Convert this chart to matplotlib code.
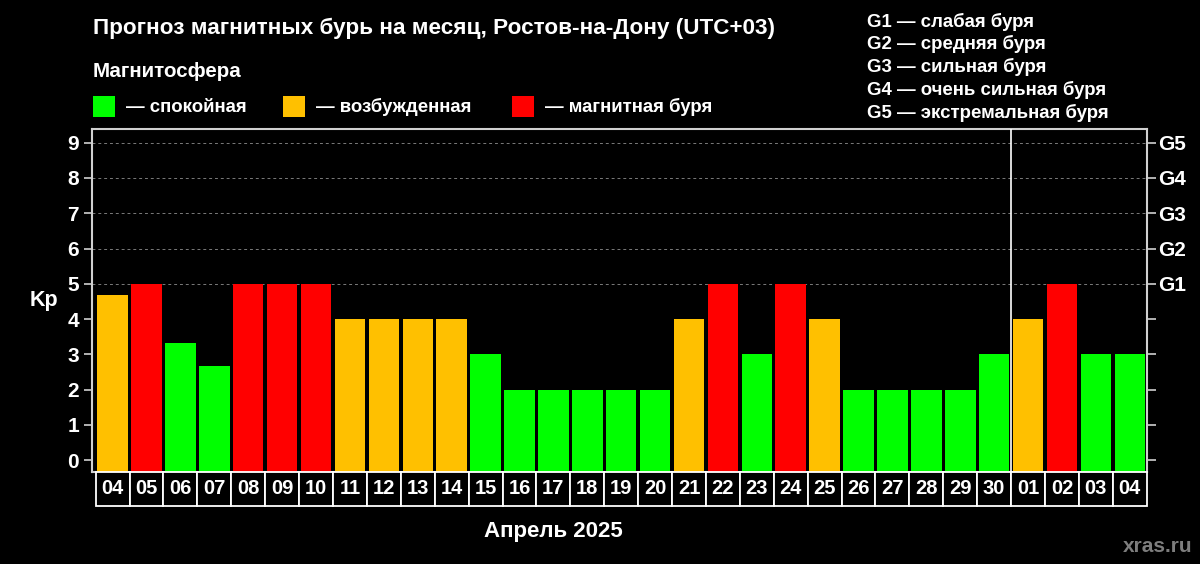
import matplotlib
matplotlib.use("Agg")
import matplotlib.pyplot as plt
import matplotlib.transforms as mtransforms
from matplotlib.patches import Rectangle

plt.rcParams["font.family"] = ["Liberation Sans", "DejaVu Sans"]
plt.rcParams["font.weight"] = "bold"

# data
days = ["04", "05", "06", "07", "08", "09", "10", "11", "12", "13", "14", "15",
        "16", "17", "18", "19", "20", "21", "22", "23", "24", "25", "26", "27",
        "28", "29", "30", "01", "02", "03", "04"]
kp = [4.67, 5, 3.33, 2.67, 5, 5, 5, 4, 4, 4, 4, 3,
      2, 2, 2, 2, 2, 4, 5, 3, 5, 4, 2, 2,
      2, 2, 3, 4, 5, 3, 3]
n_april = 27
month_label = "Апрель 2025"
g_levels = [5, 6, 7, 8, 9]
g_names = ["G1", "G2", "G3", "G4", "G5"]
g_desc = ["слабая буря", "средняя буря", "сильная буря",
          "очень сильная буря", "экстремальная буря"]
state_names = ["спокойная", "возбужденная", "магнитная буря"]

GREEN = "#00ff00"
ORANGE = "#ffc000"
RED = "#ff0000"
state_colors = [GREEN, ORANGE, RED]
SPINE = "#d0d0d0"


def kp_color(v):
    if v >= 5:
        return RED
    if v >= 4:
        return ORANGE
    return GREEN


fig = plt.figure(figsize=(12, 5.64), dpi=100)
fig.patch.set_facecolor("black")
ax = fig.add_axes([0.0769, 0.1637, 0.8787, 0.6076])
ax.set_facecolor("black")

ymin, ymax = -0.33, 9.39
x = list(range(len(days)))
ax.bar(x, [v - ymin for v in kp], bottom=ymin, width=0.9,
       color=[kp_color(v) for v in kp], zorder=3)
ax.set_xlim(-0.6, len(days) - 0.5)
ax.set_ylim(ymin, ymax)

for lvl in g_levels:
    ax.axhline(lvl, color="#7a7a7a", lw=0.7, ls=(0, (3, 3)), zorder=1)
ax.axvline(n_april - 0.5, color="white", lw=1.2, zorder=4)

for s in ax.spines.values():
    s.set_color(SPINE)
    s.set_linewidth(1.5)

ax.set_xticks([])
ax.set_yticks(range(10))
ax.tick_params(axis="y", colors="white", color=SPINE, length=6, width=1.2,
               pad=3.5, labelsize=15)
for t in ax.get_yticklabels():
    t.set_fontweight("bold")

ax.set_ylabel("Kp", rotation=0, color="white", fontsize=15.5,
              fontweight="bold", va="center", ha="center")
ax.yaxis.set_label_coords(-0.0455, 0.5)

ax2 = ax.twinx()
ax2.set_ylim(ymin, ymax)
ax2.set_yticks(range(10))
ax2.set_yticklabels([""] * (10 - len(g_names)) + g_names)
ax2.tick_params(axis="y", colors="white", color=SPINE, length=6.5, width=1.2,
                pad=2, labelsize=15)
for t in ax2.get_yticklabels():
    t.set_fontweight("bold")
for s in ax2.spines.values():
    s.set_visible(False)

# day cells under the axis
trans = mtransforms.blended_transform_factory(ax.transData, ax.transAxes)
cell_h = 0.099
for i, d in enumerate(days):
    ax.add_patch(Rectangle((i - 0.5, -cell_h), 1, cell_h, transform=trans,
                           facecolor="black", edgecolor="white", lw=1.3,
                           clip_on=False, zorder=5))
    ax.text(i, -cell_h / 2, d, transform=trans, ha="center", va="center",
            color="white", fontsize=14.5, fontweight="bold", zorder=6)

ax.text((n_april - 1) / 2, -0.176, month_label, transform=trans,
        ha="center", va="center", color="white", fontsize=16,
        fontweight="bold")

# header texts
H = 564.0
fig.text(0.0775, 1 - 34.3 / H,
         "Прогноз магнитных бурь на месяц, Ростов-на-Дону (UTC+03)",
         color="white", fontsize=16.2, fontweight="bold", va="baseline")
fig.text(0.0775, 1 - 76.7 / H, "Магнитосфера", color="white",
         fontsize=14.8, fontweight="bold", va="baseline")

sq_x = [92.7, 282.7, 511.5]
txt_x = [126.0, 316.0, 545.0]
for sx, tx, c, name in zip(sq_x, txt_x, state_colors, state_names):
    fig.patches.append(Rectangle((sx / 1200, 1 - 117.3 / H), 22.3 / 1200,
                                 21.6 / H, transform=fig.transFigure,
                                 facecolor=c, edgecolor="none"))
    fig.text(tx / 1200, 1 - 111.5 / H, "— " + name, color="white",
             fontsize=13.4, fontweight="bold", va="baseline")

for k, (g, desc) in enumerate(zip(g_names, g_desc)):
    fig.text(866.7 / 1200, 1 - (26.7 + 22.7 * k) / H, f"{g} — {desc}",
             color="white", fontsize=13.4, fontweight="bold", va="baseline")

fig.text(0.994, 1 - 551.7 / H, "xras.ru", color="#7d7d7d", fontsize=15,
         fontweight="bold", ha="right", va="baseline")

fig.savefig("out.png", dpi=100, facecolor="black")
